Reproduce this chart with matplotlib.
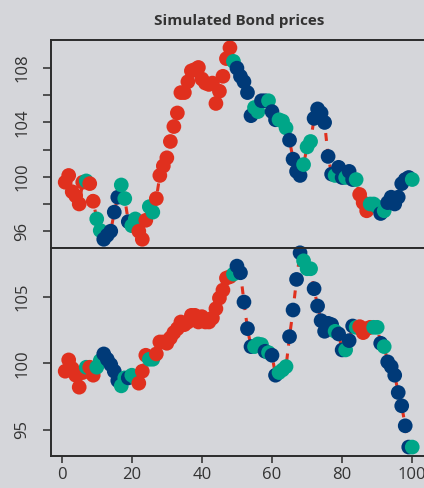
import numpy as np
import matplotlib.pyplot as plt

plt.rcParams['font.family'] = ['Open Sans', 'DejaVu Sans']

# regime colours: r = red, b = dark blue, t = teal
palette = {'r': '#e0301e', 'b': '#003a78', 't': '#00a688'}

x = np.arange(1, 101)

top_prices = [
    99.6, 100.1, 98.9, 98.6, 98.0, 99.6, 99.7, 99.5, 98.2, 96.9,
    96.05, 95.4, 95.7, 96.0, 97.4, 98.5, 99.4, 98.4, 96.7, 96.4,
    96.9, 96.0, 95.4, 96.8, 97.8, 97.4, 98.4, 100.1, 100.8, 101.4,
    102.6, 103.7, 104.7, 106.2, 106.2, 107.0, 107.8, 107.9, 108.05, 107.2,
    106.9, 106.8, 106.9, 105.4, 106.3, 107.4, 108.7, 109.5, 108.5, 108.0,
    107.4, 107.0, 106.2, 104.5, 105.1, 104.8, 105.6, 105.6, 105.6, 104.8,
    104.2, 104.2, 104.1, 103.6, 102.7, 101.3, 100.4, 100.1, 100.9, 102.2,
    102.6, 104.3, 105.0, 104.7, 104.0, 101.5, 100.2, 100.1, 100.7, 99.95,
    99.95, 100.4, 99.8, 99.8, 98.7, 98.1, 97.5, 98.0, 98.0, 97.8,
    97.3, 97.5, 98.1, 98.5, 98.0, 98.5, 99.5, 99.8, 99.95, 99.8,
]
top_states = (
    "rrrrrrtrrt" "tbbbbbttbt" "trrrttrrrr" "rrrrrrrrrr" "rrrrrrrrtb"
    "bbbbttbbtb" "btttbbbbtt" "tbbbbbbtbb" "tbbtrrrttt" "btbbbbbbbt"
)

bottom_prices = [
    99.4, 100.25, 99.6, 99.1, 98.2, 99.3, 99.7, 99.7, 99.1, 99.7,
    100.2, 100.7, 100.3, 99.9, 99.4, 98.7, 98.3, 98.9, 98.9, 99.1,
    98.9, 98.5, 99.4, 100.6, 100.3, 100.3, 100.7, 101.6, 101.6, 101.5,
    101.9, 102.3, 102.6, 103.1, 102.9, 103.1, 103.6, 103.6, 103.1, 103.5,
    103.1, 103.1, 103.4, 104.1, 104.9, 105.5, 106.4, 106.5, 106.7, 107.3,
    106.8, 104.6, 102.6, 101.25, 101.25, 101.45, 101.4, 100.9, 100.8, 100.6,
    99.1, 99.3, 99.5, 99.75, 102.0, 104.0, 106.3, 108.3, 107.7, 107.1,
    107.1, 105.6, 104.3, 103.2, 102.4, 103.0, 102.9, 102.4, 102.2, 101.0,
    101.0, 101.7, 102.8, 102.7, 102.75, 102.3, 102.6, 102.7, 102.7, 102.7,
    101.5, 101.25, 100.1, 99.75, 99.1, 97.8, 96.8, 95.3, 93.7, 93.7,
]
bottom_states = (
    "rrrrrrtrrt" "tbbbbbttbt" "trrrttrrrr" "rrrrrrrrrr" "rrrrrrrrtb"
    "bbbbtttbtb" "btttbbbbtt" "tbbbbbbtbb" "tbbtrrrrtt" "btbbbbbbbt"
)

top_yticks = [96, 98, 100, 102, 104, 106, 108]
top_ylabels = ['96', '', '100', '', '104', '', '108']
bottom_yticks = [95, 100, 105]
x_ticks = [0, 20, 40, 60, 80, 100]

bg = '#d5d6da'
fig = plt.figure(figsize=(4.24, 4.88), dpi=100, facecolor=bg)
ax1 = fig.add_axes([0.121, 0.4918, 0.884, 0.4262], facecolor=bg)
ax2 = fig.add_axes([0.121, 0.0656, 0.884, 0.4262], facecolor=bg)


def draw_panel(ax, prices, states):
    ax.plot(x, prices, color=palette['r'], lw=2.2, ls=(0, (2.6, 2.6)),
            solid_capstyle='butt', dash_capstyle='butt', zorder=1)
    ax.scatter(x, prices, s=112, c=[palette[s] for s in states],
               linewidths=0, zorder=2, clip_on=False)
    ax.set_xlim(-2.96, 103.96)
    for sp in ax.spines.values():
        sp.set_color('#2b2b2b')
        sp.set_linewidth(1.4)
    ax.tick_params(axis='y', length=6, width=1.1, color='#2b2b2b',
                   labelsize=12, labelcolor='#333333', labelrotation=90, pad=9)


draw_panel(ax1, top_prices, top_states)
ax1.set_ylim(94.76, 110.07)
ax1.set_yticks(top_yticks)
ax1.set_yticklabels(top_ylabels, va='center')
ax1.set_xticks([])
ax1.set_title('Simulated Bond prices', fontsize=11, fontweight='bold',
              color='#333333', pad=11)

draw_panel(ax2, bottom_prices, bottom_states)
ax2.set_ylim(93.03, 108.66)
ax2.set_yticks(bottom_yticks)
ax2.set_yticklabels([str(v) for v in bottom_yticks], va='center')
ax2.set_xticks(x_ticks)
ax2.tick_params(axis='x', length=5, width=1.1, color='#2b2b2b',
                labelsize=12, labelcolor='#333333', pad=3)

fig.savefig('out.png', dpi=100, facecolor=bg)
